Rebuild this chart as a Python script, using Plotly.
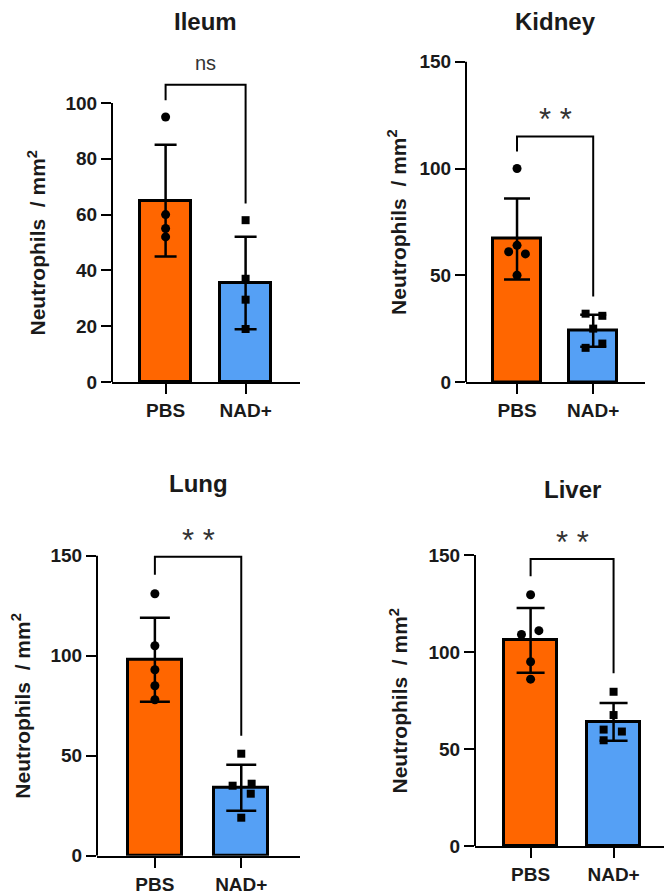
import plotly.graph_objects as go

# ---------------- data ----------------
groups = ["PBS", "NAD+"]
tissues = ["Ileum", "Kidney", "Lung", "Liver"]

ileum_mean = [65.0, 35.5]
ileum_sd = [20.0, 16.6]
ileum_pbs = [95, 60, 55, 52]
ileum_nad = [58, 37, 29.5, 19]
ileum_sig = "ns"
ileum_bracket = [106.5, 101, 64]      # top, PBS leg end, NAD+ leg end

kidney_mean = [67.0, 24.0]
kidney_sd = [19.0, 7.5]
kidney_pbs = [100, 64, 61, 60, 50]
kidney_nad = [32, 31, 25, 16, 18]
kidney_sig = "**"
kidney_bracket = [115, 108, 40]

lung_mean = [98.0, 34.0]
lung_sd = [21.0, 11.5]
lung_pbs = [131, 105, 93, 85, 78]
lung_nad = [51, 35, 36, 31, 19]
lung_sig = "**"
lung_bracket = [149.5, 140.5, 60]

liver_mean = [106.0, 64.0]
liver_sd = [16.7, 9.7]
liver_pbs = [129.5, 111, 109, 95, 86]
liver_nad = [79.5, 67.5, 60, 59, 54.5]
liver_sig = "**"
liver_bracket = [148, 139, 89]

ileum_yticks = [0, 20, 40, 60, 80, 100]
other_yticks = [0, 50, 100, 150]

y_title = "Neutrophils&nbsp; / mm<sup>2</sup>"

# ---------------- styling / layout ----------------
PAGE_OFF = 8                 # default body margin of the html page
W, H = 672 - PAGE_OFF, 894 - PAGE_OFF
ORANGE = "#FF6600"
BLUE = "#55A0F5"
FONT = "Liberation Sans, Arial, sans-serif"
TXT = "#1a1a1a"


def fx(px):
    return (px - PAGE_OFF) / W


def fy(py):
    return 1 - (py - PAGE_OFF) / H


# jitter offsets for dot positions (visual only)
panels = [
    dict(name=tissues[0], mean=ileum_mean, sd=ileum_sd, pbs=ileum_pbs, nad=ileum_nad,
         sig=ileum_sig, br=ileum_bracket, yt=ileum_yticks, axmax=100,
         x0=112, x1=300, yzero=382, ppu=2.79, ytop=110, cap=11,
         title=(205, 21), ytx=36,
         jp=[0, 0, 0, 0], jn=[0, 0, 0, 0]),
    dict(name=tissues[1], mean=kidney_mean, sd=kidney_sd, pbs=kidney_pbs, nad=kidney_nad,
         sig=kidney_sig, br=kidney_bracket, yt=other_yticks, axmax=150,
         x0=466, x1=645, yzero=382, ppu=2.135, ytop=152, cap=13,
         title=(555, 21), ytx=397,
         jp=[0, 0, -0.11, 0.11, 0], jn=[-0.1, 0.12, 0, -0.1, 0.12]),
    dict(name=tissues[2], mean=lung_mean, sd=lung_sd, pbs=lung_pbs, nad=lung_nad,
         sig=lung_sig, br=lung_bracket, yt=other_yticks, axmax=150,
         x0=97, x1=300, yzero=855.7, ppu=2.0, ytop=152, cap=15,
         title=(198, 483), ytx=21,
         jp=[0, 0, 0, 0, 0], jn=[0, -0.1, 0.12, 0.11, 0]),
    dict(name=tissues[3], mean=liver_mean, sd=liver_sd, pbs=liver_pbs, nad=liver_nad,
         sig=liver_sig, br=liver_bracket, yt=other_yticks, axmax=150,
         x0=475, x1=670, yzero=846, ppu=1.94, ytop=152, cap=14,
         title=(572, 489), ytx=398,
         jp=[0, 0.1, -0.11, 0, 0], jn=[0, 0, -0.12, 0.1, -0.12]),
]

XR = [-0.67, 1.68]

fig = go.Figure()
shapes = []
annotations = []
layout_axes = {}

for i, p in enumerate(panels):
    n = i + 1
    xa = "x" if n == 1 else f"x{n}"
    ya = "y" if n == 1 else f"y{n}"
    xkey = "xaxis" if n == 1 else f"xaxis{n}"
    ykey = "yaxis" if n == 1 else f"yaxis{n}"

    fig.add_trace(go.Bar(
        x=[0, 1], y=p["mean"], width=0.63,
        marker=dict(color=[ORANGE, BLUE], line=dict(color="black", width=3)),
        error_y=dict(type="data", array=p["sd"], visible=True,
                     color="black", thickness=2.5, width=p["cap"]),
        xaxis=xa, yaxis=ya, hoverinfo="skip",
    ))
    fig.add_trace(go.Scatter(
        x=[0 + j for j in p["jp"]], y=p["pbs"], mode="markers",
        marker=dict(symbol="circle", size=9, color="black"),
        xaxis=xa, yaxis=ya, cliponaxis=False,
    ))
    fig.add_trace(go.Scatter(
        x=[1 + j for j in p["jn"]], y=p["nad"], mode="markers",
        marker=dict(symbol="square", size=8, color="black"),
        xaxis=xa, yaxis=ya, cliponaxis=False,
    ))

    ytop_px = p["yzero"] - p["ytop"] * p["ppu"]
    layout_axes[xkey] = dict(
        domain=[fx(p["x0"]), fx(p["x1"])], anchor=ya, range=XR,
        tickmode="array", tickvals=[0, 1], ticktext=groups,
        showline=True, linewidth=2, linecolor="black",
        ticks="outside", ticklen=10, tickwidth=2, tickcolor="black",
        showgrid=False, zeroline=False, automargin=False,
        tickfont=dict(family=FONT, size=19, color=TXT, weight="bold"),
    )
    layout_axes[ykey] = dict(
        domain=[fy(p["yzero"]), fy(ytop_px)], anchor=xa, range=[0, p["ytop"]],
        tickmode="array", tickvals=p["yt"],
        showline=False, ticks="outside", ticklen=10, tickwidth=2, tickcolor="black",
        showgrid=False, zeroline=False, automargin=False,
        tickfont=dict(family=FONT, size=19, color=TXT, weight="bold"),
    )

    # y axis line (stops at last tick)
    shapes.append(dict(type="line", xref="paper", yref=ya,
                       x0=fx(p["x0"]), x1=fx(p["x0"]), y0=0, y1=p["axmax"],
                       line=dict(color="black", width=2)))
    # significance bracket
    top, lend, rend = p["br"]
    shapes.append(dict(type="path", xref=xa, yref=ya,
                       path=f"M 0 {lend} L 0 {top} L 1 {top} L 1 {rend}",
                       line=dict(color="black", width=2)))

    sig_size = 20 if p["sig"] == "ns" else 31
    annotations.append(dict(
        x=0.5, y=top, xref=xa, yref=ya, text=p["sig"].replace("**", "* *"),
        showarrow=False, xanchor="center", yanchor="bottom",
        yshift=9 if p["sig"] == "ns" else -3,
        font=dict(family=FONT, size=sig_size, color="#333333"),
    ))
    # panel title
    annotations.append(dict(
        x=fx(p["title"][0]), y=fy(p["title"][1]), xref="paper", yref="paper",
        text=p["name"], showarrow=False, xanchor="center", yanchor="middle",
        borderpad=0,
        font=dict(family=FONT, size=24, color=TXT, weight="bold"),
    ))
    # y axis title
    annotations.append(dict(
        x=fx(p["ytx"]), y=p["axmax"] / 2, xref="paper", yref=ya,
        text=y_title, textangle=-90, showarrow=False,
        xanchor="center", yanchor="middle",
        font=dict(family=FONT, size=21, color=TXT, weight="bold"),
    ))

fig.update_layout(
    width=W, height=H,
    margin=dict(l=0, r=0, t=0, b=0, pad=0, autoexpand=False),
    paper_bgcolor="white", plot_bgcolor="white",
    showlegend=False, bargap=0,
    shapes=shapes, annotations=annotations,
    **layout_axes,
)

fig.write_html("out.html")
